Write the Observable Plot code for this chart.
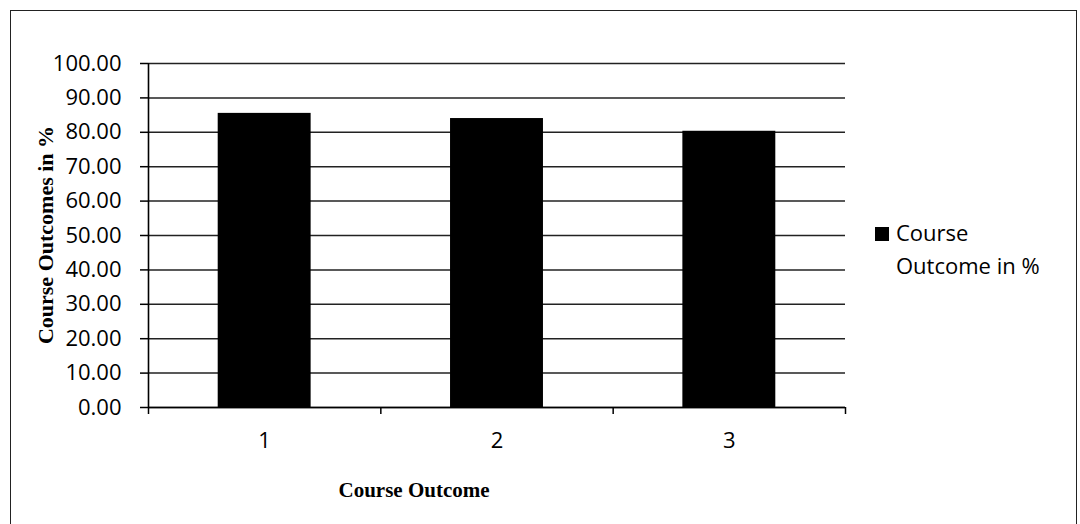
<!DOCTYPE html>
<html>
<head>
<meta charset="utf-8">
<script src="https://cdn.jsdelivr.net/npm/d3@7"></script>
<script src="https://cdn.jsdelivr.net/npm/@observablehq/plot@0.6"></script>
<style>
  html, body { margin: 0; padding: 0; background: #fff; }
  #wrap { position: relative; width: 1080px; height: 524px; overflow: hidden; background: #fff; }
  #frame { position: absolute; left: 10px; top: 10px; width: 1067px; height: 560px;
           border: 1.5px solid #222; box-sizing: border-box; }
  #chart { position: absolute; left: 0; top: 0; }
  .ytitle { position: absolute; left: 46px; top: 235px; transform: translate(-50%, -50%) rotate(-90deg);
            font-family: "Liberation Serif", "Times New Roman", serif; font-weight: bold; font-size: 22px;
            white-space: nowrap; color: #000; }
  .xtitle { position: absolute; left: 414px; top: 478px; transform: translateX(-50%);
            font-family: "Liberation Serif", "Times New Roman", serif; font-weight: bold; font-size: 21px;
            white-space: nowrap; color: #000; }
  .legend { position: absolute; left: 875px; top: 216px; font-family: "Open Sans", sans-serif;
            font-size: 22px; line-height: 33px; color: #000; }
  .legend .sw { position: absolute; left: 0; top: 11px; width: 14px; height: 14px; background: #000; }
  .legend .lbl { margin-left: 21px; white-space: nowrap; }
</style>
</head>
<body>
<div id="wrap">
  <div id="frame"></div>
  <div id="chart"></div>
  <div class="ytitle">Course Outcomes in %</div>
  <div class="xtitle">Course Outcome</div>
  <div class="legend"><div class="sw"></div><div class="lbl">Course<br>Outcome in %</div></div>
</div>
<script>
const categories = [1, 2, 3];
const values = [85.5, 84.0, 80.3];
const yTicks = [0, 10, 20, 30, 40, 50, 60, 70, 80, 90, 100];

const data = categories.map((c, i) => ({c, v: values[i]}));
const boundaries = [categories[0] - 0.5, ...categories.map(c => c + 0.5)];

const chart = Plot.plot({
  width: 1080,
  height: 524,
  marginLeft: 148,
  marginRight: 235,
  marginTop: 63,
  marginBottom: 117,
  style: {fontFamily: "'Open Sans', sans-serif", fontSize: "22px", color: "#000", background: "transparent"},
  x: {type: "linear", domain: [0.5, 3.5]},
  y: {domain: [0, 100]},
  marks: [
    Plot.gridY(yTicks, {stroke: "#222", strokeOpacity: 1, strokeWidth: 1.5}),
    Plot.rectY(data, {x1: d => d.c - 0.2, x2: d => d.c + 0.2, y: "v", fill: "#000"}),
    Plot.ruleX([0.5], {y1: 0, y2: 100, stroke: "#000", strokeWidth: 1.6}),
    Plot.ruleY([0], {stroke: "#000", strokeWidth: 1.6}),
    Plot.axisY({ticks: yTicks, tickSize: 8, tickPadding: 19, tickFormat: d => d.toFixed(2), label: null, stroke: "#000", strokeWidth: 1.5, fill: "#000"}),
    Plot.axisX({ticks: boundaries, tickSize: 7, tickFormat: () => "", label: null, stroke: "#000", strokeWidth: 1.5}),
    Plot.axisX({ticks: categories, tickSize: 0, tickPadding: 25, tickFormat: d => String(d), label: null, fill: "#000"})
  ]
});
document.getElementById("chart").appendChild(chart);
</script>
</body>
</html>
